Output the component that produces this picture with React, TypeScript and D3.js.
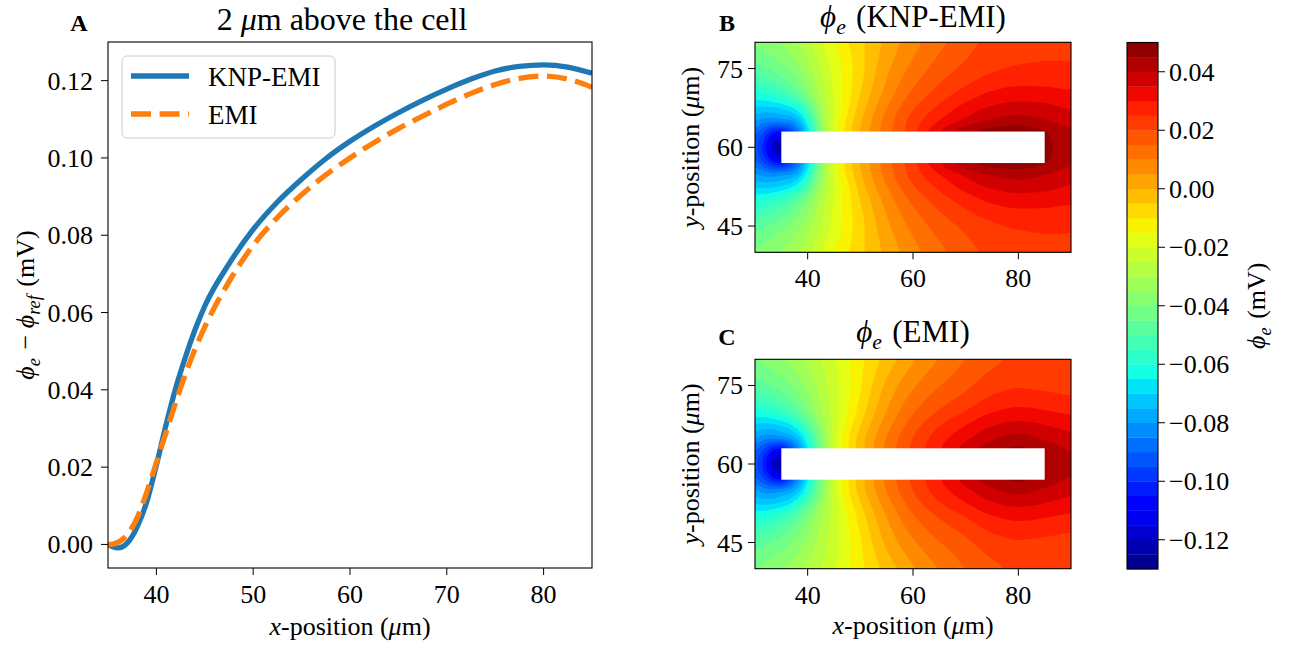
import React, { useMemo } from "react";
import * as d3 from "d3";

// ---------------- Panel A: potential 2 µm above the cell ----------------
const lineX = [35, 35.5, 36, 36.5, 37, 38, 39, 40, 41, 42, 43, 44, 45, 47.5, 50, 52.5, 55, 57.5, 60, 62.5, 65, 67.5, 70, 72.5, 75, 77.5, 80, 82.5, 85];
const knpEmiLine = [0, -0.0006, -0.0009, -0.0006, 0.0004, 0.0045, 0.011, 0.0205, 0.031, 0.0405, 0.0485, 0.0556, 0.0617, 0.0726, 0.0815, 0.0886, 0.0945, 0.0998, 0.1043, 0.1082, 0.1117, 0.1149, 0.1178, 0.1204, 0.1225, 0.1237, 0.1241, 0.1235, 0.1219];
const emiLine = [0, 0.0001, 0.0005, 0.0013, 0.0026, 0.0068, 0.0135, 0.0212, 0.029, 0.0368, 0.0441, 0.0506, 0.0563, 0.068, 0.0774, 0.0846, 0.0905, 0.0956, 0.1, 0.104, 0.1076, 0.1108, 0.1139, 0.1167, 0.119, 0.1206, 0.1212, 0.1204, 0.1183];
const lineXTicks = [40, 50, 60, 70, 80];
const lineYTicks = [0, 0.02, 0.04, 0.06, 0.08, 0.1, 0.12];

// ---------------- Panels B, C: extracellular potential field ----------------
// grid columns (x, µm) and distances from the cell axis |y - 60| (µm); field is mirror-symmetric in y
const fieldX = [30, 32, 34, 35, 36, 38, 40, 42.5, 45, 47.5, 50, 55, 60, 65, 70, 75, 80, 85, 87.5, 90];
const fieldD = [0, 1.5, 3, 4, 5, 7.5, 10, 15, 20];

const knpD0 = [-0.092, -0.104, -0.124, -0.13, -0.101, -0.088, -0.069, -0.038, -0.019, -0.008, 0.0003, 0.0128, 0.0235, 0.035, 0.0435, 0.0472, 0.0478, 0.0465, 0.044, 0.0425];
const knpD1 = [-0.091, -0.102, -0.117, -0.121, -0.101, -0.088, -0.069, -0.038, -0.019, -0.008, 0.0003, 0.0128, 0.0235, 0.035, 0.0435, 0.0472, 0.0478, 0.0462, 0.0437, 0.042];
const knpD3 = [-0.087, -0.096, -0.104, -0.105, -0.101, -0.088, -0.069, -0.038, -0.019, -0.008, 0.0003, 0.0128, 0.0235, 0.035, 0.0435, 0.0472, 0.0478, 0.0455, 0.043, 0.041];
const knpD4 = [-0.083, -0.0895, -0.094, -0.094, -0.092, -0.083, -0.066, -0.037, -0.0185, -0.0082, -0.0002, 0.0125, 0.0228, 0.0325, 0.04, 0.0445, 0.0455, 0.043, 0.0408, 0.039];
const knpD5 = [-0.079, -0.083, -0.0835, -0.0815, -0.082, -0.077, -0.061, -0.0355, -0.0195, -0.009, -0.0008, 0.0122, 0.0222, 0.0302, 0.0363, 0.041, 0.0426, 0.0404, 0.039, 0.0375];
const knpD7 = [-0.0705, -0.0715, -0.0705, -0.0695, -0.068, -0.0625, -0.051, -0.032, -0.0205, -0.0112, -0.0028, 0.0098, 0.0195, 0.0262, 0.032, 0.0358, 0.0373, 0.0365, 0.0355, 0.0345];
const knpD10 = [-0.0615, -0.06, -0.0572, -0.0553, -0.0535, -0.0475, -0.0395, -0.0283, -0.0195, -0.0122, -0.0048, 0.0072, 0.0163, 0.0225, 0.0275, 0.0312, 0.0328, 0.0325, 0.0318, 0.0312];
const knpD15 = [-0.0475, -0.0455, -0.043, -0.0415, -0.0402, -0.0365, -0.0318, -0.0248, -0.0183, -0.0125, -0.0068, 0.0038, 0.0115, 0.0172, 0.0212, 0.0242, 0.0255, 0.0257, 0.0256, 0.0255];
const knpD20 = [-0.039, -0.0372, -0.0353, -0.0342, -0.0331, -0.0298, -0.0262, -0.0203, -0.015, -0.0105, -0.0063, 0.0012, 0.008, 0.0135, 0.018, 0.0213, 0.023, 0.0238, 0.024, 0.024];

const emiD0 = [-0.092, -0.104, -0.124, -0.13, -0.099, -0.085, -0.066, -0.041, -0.0225, -0.0112, -0.0022, 0.0112, 0.0212, 0.0295, 0.037, 0.0432, 0.0458, 0.0445, 0.0425, 0.041];
const emiD1 = [-0.091, -0.102, -0.117, -0.121, -0.099, -0.085, -0.066, -0.041, -0.0225, -0.0112, -0.0022, 0.0112, 0.0212, 0.0295, 0.037, 0.0432, 0.0458, 0.0443, 0.0422, 0.0405];
const emiD3 = [-0.087, -0.096, -0.104, -0.105, -0.099, -0.085, -0.066, -0.041, -0.0225, -0.0112, -0.0022, 0.0112, 0.0212, 0.0295, 0.037, 0.0432, 0.0458, 0.0432, 0.041, 0.039];
const emiD4 = [-0.083, -0.0895, -0.094, -0.094, -0.09, -0.079, -0.062, -0.04, -0.022, -0.0112, -0.0025, 0.0108, 0.0207, 0.0286, 0.0355, 0.041, 0.0438, 0.0412, 0.0393, 0.0378];
const emiD5 = [-0.079, -0.083, -0.0832, -0.081, -0.0805, -0.0742, -0.0598, -0.0395, -0.0218, -0.0112, -0.0028, 0.0103, 0.0202, 0.0278, 0.0338, 0.039, 0.0418, 0.0389, 0.0375, 0.0362];
const emiD7 = [-0.0705, -0.0715, -0.0705, -0.0693, -0.0675, -0.06, -0.049, -0.034, -0.0235, -0.0135, -0.0052, 0.0078, 0.0175, 0.0245, 0.0298, 0.0345, 0.0365, 0.035, 0.034, 0.0333];
const emiD10 = [-0.0618, -0.0603, -0.0575, -0.0556, -0.0538, -0.0478, -0.0403, -0.0305, -0.0225, -0.0152, -0.0078, 0.0052, 0.0145, 0.0205, 0.0252, 0.0297, 0.0315, 0.0305, 0.0297, 0.029];
const emiD15 = [-0.048, -0.046, -0.0438, -0.0425, -0.0413, -0.0377, -0.0335, -0.0278, -0.0222, -0.0165, -0.0105, 0.0012, 0.0092, 0.0148, 0.0188, 0.0228, 0.0245, 0.024, 0.0237, 0.0233];
const emiD20 = [-0.0398, -0.038, -0.0362, -0.0352, -0.0342, -0.0315, -0.0283, -0.0247, -0.0205, -0.0158, -0.0115, -0.0032, 0.0042, 0.0102, 0.015, 0.0185, 0.021, 0.0215, 0.0217, 0.0218];

const knpField = [knpD0, knpD1, knpD3, knpD4, knpD5, knpD7, knpD10, knpD15, knpD20];
const emiField = [emiD0, emiD1, emiD3, emiD4, emiD5, emiD7, emiD10, emiD15, emiD20];

const levelMin = -0.13;
const levelStep = 0.005;
const levelCount = 36;
const colorbarTicks = [-0.12, -0.1, -0.08, -0.06, -0.04, -0.02, 0, 0.02, 0.04];
const mapXTicks = [40, 60, 80];
const mapYTicks = [45, 60, 75];
const cellBox = { x0: 35, x1: 85, y0: 57, y1: 63 };

// ---------------- helpers ----------------
const JET_R = [[0, 0], [0.35, 0], [0.66, 1], [0.89, 1], [1, 0.5]];
const JET_G = [[0, 0], [0.125, 0], [0.375, 1], [0.64, 1], [0.91, 0], [1, 0]];
const JET_B = [[0, 0.5], [0.11, 1], [0.34, 1], [0.65, 0], [1, 0]];
function seg(pts: number[][], v: number) {
  for (let i = 0; i < pts.length - 1; i++) {
    const [x0, y0] = pts[i];
    const [x1, y1] = pts[i + 1];
    if (v <= x1) return y0 + ((y1 - y0) * (v - x0)) / (x1 - x0);
  }
  return pts[pts.length - 1][1];
}
function jet(t: number) {
  return d3.rgb(seg(JET_R, t) * 255, seg(JET_G, t) * 255, seg(JET_B, t) * 255).formatHex();
}
const levels = d3.range(levelCount + 1).map((k) => Math.round((levelMin + k * levelStep) * 10000) / 10000);
const bandColor = (k: number) => jet((k + 0.5) / levelCount);

// monotone cubic (PCHIP) interpolation, used to resample the grid smoothly
function pchipSlopes(xs: number[], ys: number[]) {
  const n = xs.length;
  const h: number[] = [], del: number[] = [];
  for (let k = 0; k < n - 1; k++) {
    h.push(xs[k + 1] - xs[k]);
    del.push((ys[k + 1] - ys[k]) / h[k]);
  }
  const m = new Array(n).fill(0);
  m[0] = del[0];
  m[n - 1] = del[n - 2];
  for (let k = 1; k < n - 1; k++) {
    if (del[k - 1] * del[k] <= 0) m[k] = 0;
    else {
      const w1 = 2 * h[k] + h[k - 1], w2 = h[k] + 2 * h[k - 1];
      m[k] = (w1 + w2) / (w1 / del[k - 1] + w2 / del[k]);
    }
  }
  return m;
}
function pchipEval(xs: number[], ys: number[], ms: number[], x: number) {
  let k = d3.bisectRight(xs, x) - 1;
  k = Math.max(0, Math.min(xs.length - 2, k));
  const h = xs[k + 1] - xs[k];
  const t = Math.max(0, Math.min(1, (x - xs[k]) / h));
  const t2 = t * t, t3 = t2 * t;
  return (2 * t3 - 3 * t2 + 1) * ys[k] + (t3 - 2 * t2 + t) * h * ms[k] + (-2 * t3 + 3 * t2) * ys[k + 1] + (t3 - t2) * h * ms[k + 1];
}

const FONT = "'Liberation Serif', 'DejaVu Serif', serif";
const TICK = 26;

function Phi({ sub, size }: { sub: string; size: number }) {
  return (
    <>
      <tspan fontStyle="italic">ϕ</tspan>
      <tspan fontStyle="italic" fontSize={size * 0.7} dy={size * 0.22}>{sub}</tspan>
      <tspan dy={-size * 0.22}>{"\u200a"}</tspan>
    </>
  );
}

function ContourPanel({ field, x0, y0, w, h, id }: { field: number[][]; x0: number; y0: number; w: number; h: number; id: string }) {
  const n = 240, m = 160;
  const contours = useMemo(() => {
    const yNodes = [...fieldD.slice(1).reverse().map((d) => 60 - d), ...fieldD.map((d) => 60 + d)];
    const rows = [...field.slice(1).reverse(), ...field];
    const rowSlopes = rows.map((r) => pchipSlopes(fieldX, r));
    const values = new Float64Array(n * m);
    for (let i = 0; i < n; i++) {
      const x = 30 + ((i + 0.5) * 60) / n;
      const col = rows.map((r, k) => pchipEval(fieldX, r, rowSlopes[k], x));
      const cs = pchipSlopes(yNodes, col);
      for (let j = 0; j < m; j++) {
        const y = 80 - ((j + 0.5) * 40) / m;
        values[j * n + i] = pchipEval(yNodes, col, cs, y);
      }
    }
    const blur2 = (d3 as any).blur2;
    if (blur2) blur2({ data: values, width: n, height: m }, 1.5);
    return d3.contours().size([n, m]).thresholds(levels.slice(1, levelCount))(Array.from(values));
  }, [field]);
  const path = d3.geoPath();
  const sx = d3.scaleLinear([30, 90], [x0, x0 + w]);
  const sy = d3.scaleLinear([40, 80], [y0 + h, y0]);
  return (
    <g>
      <clipPath id={id}>
        <rect x={x0} y={y0} width={w} height={h} />
      </clipPath>
      <g clipPath={`url(#${id})`}>
        <rect x={x0} y={y0} width={w} height={h} fill={bandColor(0)} />
        <g transform={`translate(${x0},${y0}) scale(${w / n},${h / m})`}>
          {contours.map((c, k) => (
            <path key={k} d={path(c as any) || ""} fill={bandColor(k + 1)} stroke="none" />
          ))}
        </g>
        <rect x={sx(cellBox.x0)} y={sy(cellBox.y1)} width={sx(cellBox.x1) - sx(cellBox.x0)} height={sy(cellBox.y0) - sy(cellBox.y1)} fill="white" />
      </g>
      <rect x={x0} y={y0} width={w} height={h} fill="none" stroke="black" strokeWidth={1.1} />
      {mapXTicks.map((t) => (
        <g key={"x" + t}>
          <line x1={sx(t)} x2={sx(t)} y1={y0 + h} y2={y0 + h + 7} stroke="black" strokeWidth={1} />
          <text x={sx(t)} y={y0 + h + 35} textAnchor="middle" fontSize={TICK}>{t}</text>
        </g>
      ))}
      {mapYTicks.map((t) => (
        <g key={"y" + t}>
          <line x1={x0 - 7} x2={x0} y1={sy(t)} y2={sy(t)} stroke="black" strokeWidth={1} />
          <text x={x0 - 12} y={sy(t) + 9} textAnchor="end" fontSize={TICK}>{t}</text>
        </g>
      ))}
      <text transform={`translate(${x0 - 56},${y0 + h / 2}) rotate(-90)`} textAnchor="middle" fontSize={TICK}>
        <tspan fontStyle="italic">y</tspan>-position (<tspan fontStyle="italic">μ</tspan>m)
      </text>
    </g>
  );
}

export default function App() {
  const ax = d3.scaleLinear([35, 85], [108, 592]);
  const ay = d3.scaleLinear([-0.0061, 0.13], [568, 42]);
  const line = d3
    .line<number>()
    .x((_, i) => ax(lineX[i]))
    .y((v) => ay(v))
    .curve(d3.curveMonotoneX);

  const cbX = 1127, cbW = 31, cbTop = 42.5, cbBot = 569;
  const cy = d3.scaleLinear([levels[0], levels[levelCount]], [cbBot, cbTop]);

  const bX = 755, bW = 316, bH = 210;
  return (
    <svg width={1293} height={648} style={{ position: "absolute", left: 0, top: 0, background: "white" }} fontFamily={FONT}>
      <rect width={1293} height={648} fill="white" />
      {/* ---------- Panel A ---------- */}
      <text x={79} y={31} textAnchor="middle" fontSize={24} fontWeight="bold">A</text>
      <text x={342} y={30} textAnchor="middle" fontSize={32}>
        2 <tspan fontStyle="italic">μ</tspan>m above the cell
      </text>
      <defs>
        <clipPath id="clipA">
          <rect x={108} y={42} width={484} height={526} />
        </clipPath>
      </defs>
      <g clipPath="url(#clipA)">
        <path d={line(knpEmiLine) || ""} fill="none" stroke="#1f77b4" strokeWidth={5.3} />
        <path d={line(emiLine) || ""} fill="none" stroke="#ff7f0e" strokeWidth={5.3} strokeDasharray="20 8.6" />
      </g>
      <rect x={108} y={42} width={484} height={526} fill="none" stroke="black" strokeWidth={1.1} />
      {lineXTicks.map((t) => (
        <g key={"ax" + t}>
          <line x1={ax(t)} x2={ax(t)} y1={568} y2={575} stroke="black" />
          <text x={ax(t)} y={603} textAnchor="middle" fontSize={TICK}>{t}</text>
        </g>
      ))}
      {lineYTicks.map((t) => (
        <g key={"ay" + t}>
          <line x1={101} x2={108} y1={ay(t)} y2={ay(t)} stroke="black" />
          <text x={93} y={ay(t) + 9} textAnchor="end" fontSize={TICK}>{t.toFixed(2)}</text>
        </g>
      ))}
      <text x={350} y={635} textAnchor="middle" fontSize={TICK}>
        <tspan fontStyle="italic">x</tspan>-position (<tspan fontStyle="italic">μ</tspan>m)
      </text>
      <text transform="translate(34,305) rotate(-90)" textAnchor="middle" fontSize={TICK}>
        <Phi sub="e" size={TICK} /> − <Phi sub="ref" size={TICK} /> (mV)
      </text>
      {/* legend */}
      <rect x={122} y={56} width={213} height={82} rx={5} fill="white" fillOpacity={0.8} stroke="#cccccc" />
      <line x1={131} x2={189} y1={76} y2={76} stroke="#1f77b4" strokeWidth={5.3} />
      <line x1={131} x2={189} y1={114} y2={114} stroke="#ff7f0e" strokeWidth={5.3} strokeDasharray="20 8.6" />
      <text x={208} y={86} fontSize={27}>KNP-EMI</text>
      <text x={208} y={124} fontSize={27}>EMI</text>

      {/* ---------- Panel B ---------- */}
      <text x={727} y={31} textAnchor="middle" fontSize={24} fontWeight="bold">B</text>
      <text x={bX + bW / 2} y={27} textAnchor="middle" fontSize={31}>
        <Phi sub="e" size={31} /> (KNP-EMI)
      </text>
      <ContourPanel field={knpField} x0={bX} y0={42.3} w={bW} h={bH} id="clipB" />

      {/* ---------- Panel C ---------- */}
      <text x={727} y={345} textAnchor="middle" fontSize={24} fontWeight="bold">C</text>
      <text x={bX + bW / 2} y={342} textAnchor="middle" fontSize={31}>
        <Phi sub="e" size={31} /> (EMI)
      </text>
      <ContourPanel field={emiField} x0={bX} y0={359.3} w={bW} h={209.4} id="clipC" />
      <text x={bX + bW / 2} y={634} textAnchor="middle" fontSize={TICK}>
        <tspan fontStyle="italic">x</tspan>-position (<tspan fontStyle="italic">μ</tspan>m)
      </text>

      {/* ---------- Colorbar ---------- */}
      {d3.range(levelCount).map((k) => (
        <rect key={"cb" + k} x={cbX} y={cy(levels[k + 1])} width={cbW} height={cy(levels[k]) - cy(levels[k + 1]) + 0.3} fill={bandColor(k)} />
      ))}
      <rect x={cbX} y={cbTop} width={cbW} height={cbBot - cbTop} fill="none" stroke="black" strokeWidth={1.1} />
      {colorbarTicks.map((t) => (
        <g key={"cbt" + t}>
          <line x1={cbX + cbW} x2={cbX + cbW + 7} y1={cy(t)} y2={cy(t)} stroke="black" />
          <text x={cbX + cbW + 11} y={cy(t) + 9} fontSize={TICK}>
            {t < 0 ? "−" + Math.abs(t).toFixed(2) : t.toFixed(2)}
          </text>
        </g>
      ))}
      <text transform={`translate(1265,${(cbTop + cbBot) / 2}) rotate(-90)`} textAnchor="middle" fontSize={TICK}>
        <Phi sub="e" size={TICK} /> (mV)
      </text>
    </svg>
  );
}
